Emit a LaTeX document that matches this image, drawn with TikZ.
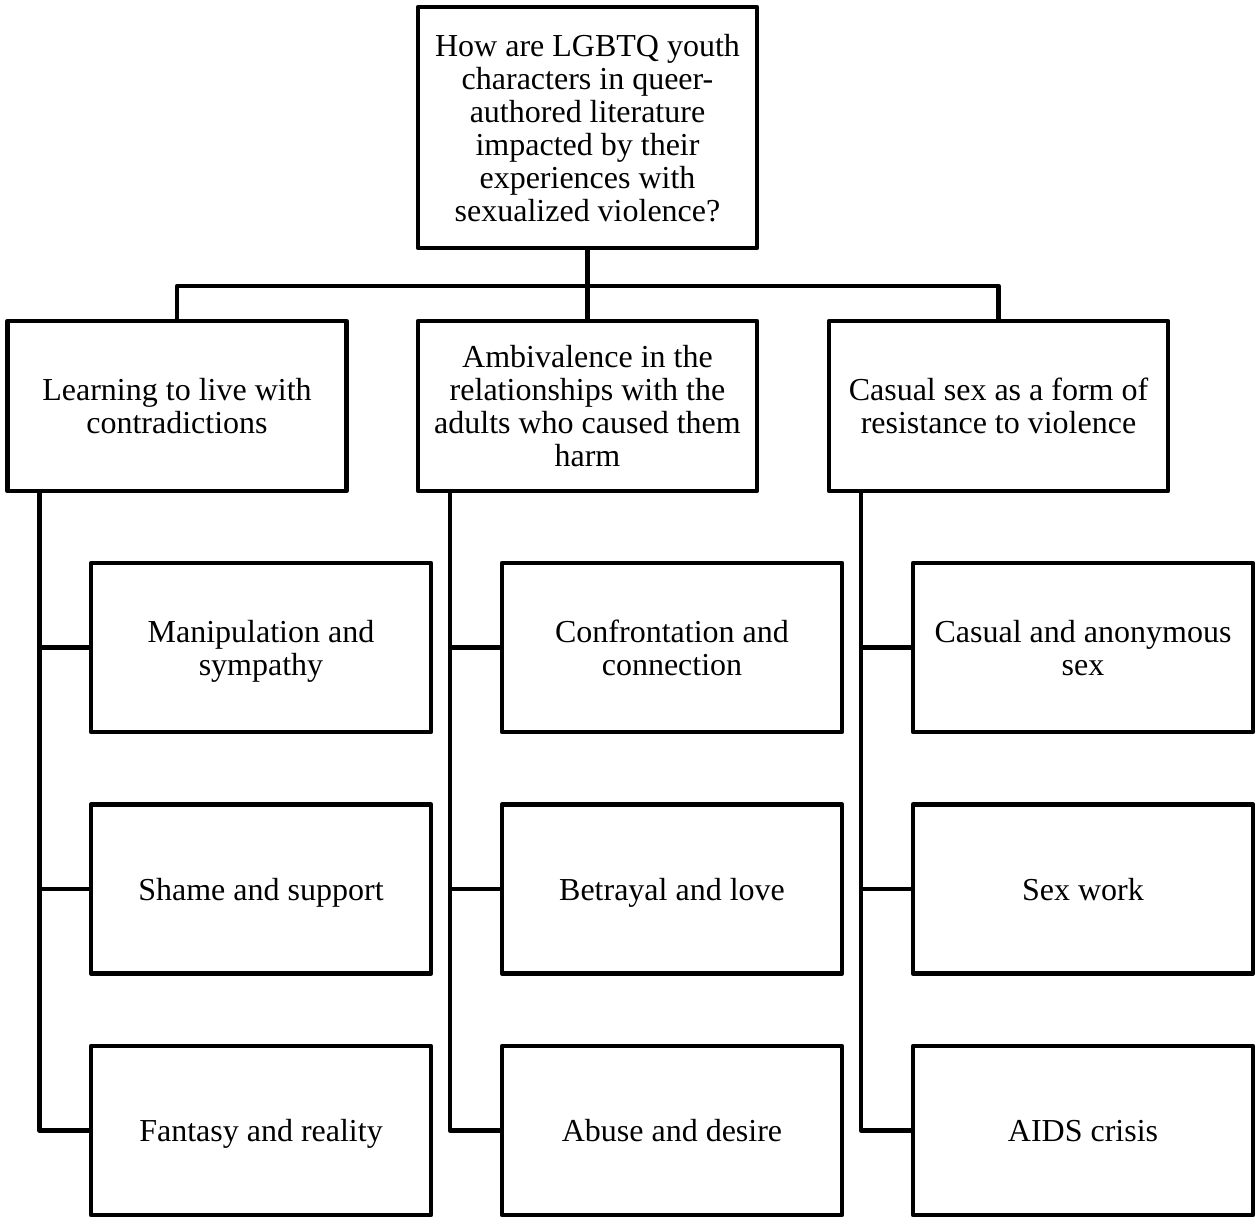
\documentclass[tikz,border=0pt]{standalone}
\usepackage{fontspec}
\setmainfont{Liberation Serif}
\begin{document}
\begin{tikzpicture}[x=1pt,y=-1pt,
  line width=4.5pt, line join=round,
  box/.style={draw, rectangle, inner sep=0pt, align=center, text depth=0pt,
    font=\fontsize{32}{33}\selectfont},
  topbox/.style={box, minimum width=339pt, minimum height=241pt},
  catbox/.style={box, minimum width=339pt, minimum height=170pt},
  subbox/.style={box, minimum width=340pt, minimum height=169pt}]
\useasboundingbox (0,0) rectangle (1259,1226);

% question
\node[topbox] (q) at (587.5,127.5) {How are LGBTQ youth\\characters in queer-\\authored literature\\impacted by their\\experiences with\\sexualized violence?};

% themes
\node[catbox] (t1) at (177,406) {Learning to live with\\contradictions};
\node[catbox] (t2) at (587.5,406) {Ambivalence in the\\relationships with the\\adults who caused them\\harm};
\node[catbox] (t3) at (998.5,406) {Casual sex as a form of\\resistance to violence};

% sub-themes
\node[subbox] (a1) at (261,647.5) {Manipulation and\\sympathy};
\node[subbox] (a2) at (261,889) {Shame and support};
\node[subbox] (a3) at (261,1130.5) {Fantasy and reality};
\node[subbox] (b1) at (672,647.5) {Confrontation and\\connection};
\node[subbox] (b2) at (672,889) {Betrayal and love};
\node[subbox] (b3) at (672,1130.5) {Abuse and desire};
\node[subbox] (c1) at (1083,647.5) {Casual and anonymous\\sex};
\node[subbox] (c2) at (1083,889) {Sex work};
\node[subbox] (c3) at (1083,1130.5) {AIDS crisis};

% question to themes
\coordinate (bus) at (587.5,286);
\draw (q.south) -- (t2.north);
\draw (t1.north) |- (bus) -| (t3.north);

% themes to sub-themes
\foreach \t/\s in {t1/a, t2/b, t3/c} {
  \draw ([xshift=34pt]\t.south west) |- (\s3.west);
  \draw ([xshift=34pt]\t.south west |- \s1.west) -- (\s1.west);
  \draw ([xshift=34pt]\t.south west |- \s2.west) -- (\s2.west);
}
\end{tikzpicture}
\end{document}
